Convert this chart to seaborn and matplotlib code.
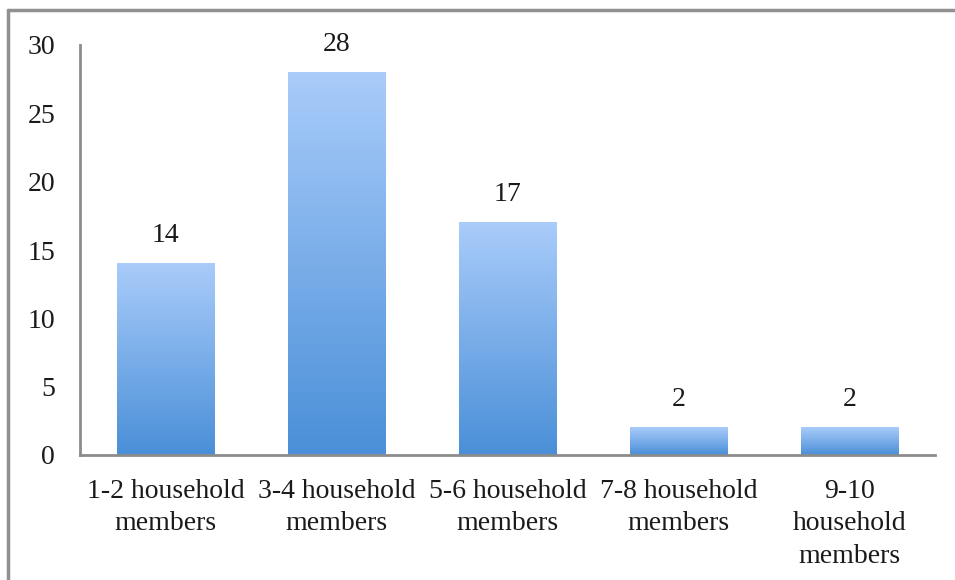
import numpy as np
import matplotlib
matplotlib.use("Agg")
import matplotlib.pyplot as plt
import seaborn as sns
import pandas as pd
from matplotlib.colors import LinearSegmentedColormap
from matplotlib.lines import Line2D

sns.set_style("white")
plt.rcParams["font.family"] = ["Liberation Serif", "DejaVu Serif"]

categories = [
    "1-2 household\nmembers",
    "3-4 household\nmembers",
    "5-6 household\nmembers",
    "7-8 household\nmembers",
    "9-10\nhousehold\nmembers",
]
counts = [14, 28, 17, 2, 2]

df = pd.DataFrame({"group": categories, "count": counts})

fig = plt.figure(figsize=(9.55, 5.8), dpi=100)
ax = fig.add_axes([80 / 955, 1 - 455 / 580, 855 / 955, 410 / 580])

sns.barplot(data=df, x="group", y="count", color="#7fb0ec", width=0.57,
            ax=ax, saturation=1)

# vertical gradient fill on each bar (light top, darker bottom)
grad = LinearSegmentedColormap.from_list("bluegrad", ["#4a8fd8", "#a9ccfa"])
ax.set_xlim(-0.5, len(categories) - 0.5)
ax.set_ylim(0, 30)
for patch in ax.patches:
    x0, y0 = patch.get_x(), patch.get_y()
    w, h = patch.get_width(), patch.get_height()
    img = np.linspace(0, 1, 256).reshape(-1, 1)
    ax.imshow(img, cmap=grad, vmin=0, vmax=1, aspect="auto", origin="lower",
              extent=[x0, x0 + w, y0, y0 + h], clip_path=patch, zorder=2)
    patch.set_facecolor("none")
    patch.set_edgecolor("none")
ax.set_xlim(-0.5, len(categories) - 0.5)
ax.set_ylim(0, 30)

for i, v in enumerate(counts):
    ax.annotate(str(v), (i, v), xytext=(0, 11), textcoords="offset points",
                ha="center", va="bottom", fontsize=20, color="#1a1a1a")

ax.set_yticks(range(0, 31, 5))
ax.set_xlabel("")
ax.set_ylabel("")
ax.tick_params(axis="y", length=0, pad=18, labelsize=20, labelcolor="#1a1a1a")
ax.tick_params(axis="x", length=0, pad=17, labelsize=20, labelcolor="#1a1a1a")
for lbl in ax.get_xticklabels():
    lbl.set_linespacing(1.4)

for side in ["top", "right"]:
    ax.spines[side].set_visible(False)
for side in ["left", "bottom"]:
    ax.spines[side].set_color("#8c8c8c")
    ax.spines[side].set_linewidth(2)

# outer frame (top and left edges visible)
fig.add_artist(Line2D([8 / 955, 1.0], [1 - 10 / 580, 1 - 10 / 580],
                      color="#909090", lw=2.5, transform=fig.transFigure))
fig.add_artist(Line2D([8 / 955, 8 / 955], [0.0, 1 - 10 / 580],
                      color="#909090", lw=2.5, transform=fig.transFigure))

fig.savefig("out.png", dpi=100)
